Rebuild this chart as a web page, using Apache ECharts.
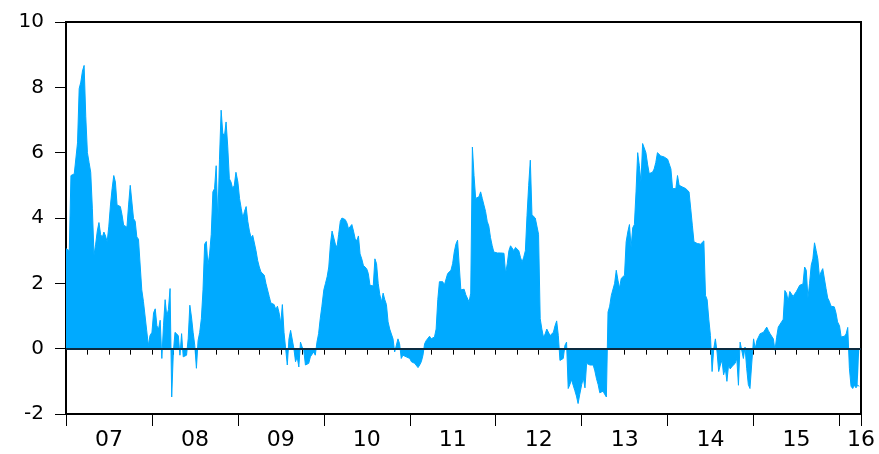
<!DOCTYPE html>
<html>
<head>
<meta charset="utf-8">
<script src="https://cdn.jsdelivr.net/npm/echarts@6/dist/echarts.min.js"></script>
<style>
  html, body { margin: 0; padding: 0; background: #ffffff; }
  #chart { width: 879px; height: 454px; }
</style>
</head>
<body>
<div id="chart"></div>
<script>
// Weekly observations, one array per calendar year (first week starts in early January)
const y2007 = [3.06, 3.06, 3.0, 5.3, 5.3, 5.35, 5.4, 6.3, 7.96, 8.16, 8.5, 8.67, 7.1, 6.0, 5.7, 5.4, 4.3, 2.86, 3.2, 3.6, 3.86, 3.5, 3.4, 3.57, 3.45, 3.27, 3.75, 4.4, 4.9, 5.3, 5.1, 4.4, 4.4, 4.35, 4.1, 3.78, 3.75, 3.72, 4.4, 5.0, 4.95, 3.98, 3.9, 3.42, 3.35, 3.3, 1.8, 1.45, 1.0, 0.55, 0.1, 0.4];
const y2008 = [0.5, 1.1, 1.22, 0.7, 0.6, 0.87, -0.3, 0.7, 1.5, 1.0, 1.2, 1.84, -1.48, -0.1, 0.5, 0.56, 0.4, -0.2, 0.46, -0.25, -0.22, -0.2, 0.3, 1.33, 0.97, 0.5, 0.1, -0.6, 0.25, 0.5, 0.92, 1.8, 3.2, 3.28, 2.55, 2.9, 3.5, 4.8, 4.9, 5.6, 3.9, 5.8, 7.3, 6.6, 6.5, 6.94, 6.2, 5.2, 5.1, 4.9, 5.0, 5.4];
const y2009 = [5.1, 4.6, 4.3, 4.0, 4.2, 4.35, 3.9, 3.6, 3.4, 3.47, 3.45, 3.0, 2.7, 2.5, 2.35, 2.35, 2.25, 2.0, 2.0, 1.6, 1.4, 1.38, 1.35, 1.2, 1.3, 1.1, 0.77, 1.35, 0.5, 0.45, -0.5, 0.3, 0.56, 0.5, 0.0, -0.4, -0.25, -0.56, 0.2, 0.05, -0.05, -0.5, -0.5, -0.45, -0.25, -0.3, -0.1, -0.2, 0.2, 0.46, 0.92, 1.3];
const y2010 = [1.8, 2.0, 2.2, 2.5, 3.2, 3.6, 3.6, 3.2, 3.1, 3.5, 3.9, 4.0, 4.03, 3.95, 3.85, 3.67, 3.65, 3.8, 3.6, 3.37, 3.3, 3.45, 2.9, 2.75, 2.55, 2.6, 2.45, 2.3, 1.94, 1.9, 1.92, 2.75, 2.6, 2.0, 1.65, 1.43, 1.7, 1.5, 1.35, 0.82, 0.6, 0.45, 0.3, -0.1, -0.15, 0.3, 0.15, -0.3, -0.2, -0.25, -0.25, -0.3];
const y2011 = [-0.3, -0.4, -0.4, -0.45, -0.5, -0.58, -0.5, -0.4, -0.2, 0.15, 0.25, 0.25, 0.38, 0.3, 0.25, 0.36, 0.6, 1.5, 2.05, 2.05, 2.05, 1.95, 2.0, 2.3, 2.25, 2.4, 2.6, 2.96, 3.2, 3.32, 3.3, 1.8, 1.84, 1.82, 1.65, 1.6, 1.43, 1.7, 6.17, 5.3, 4.6, 4.6, 4.65, 4.8, 4.6, 4.4, 4.2, 3.9, 3.75, 3.4, 3.16, 2.96];
const y2012 = [2.96, 2.93, 2.9, 2.93, 2.88, 2.92, 2.3, 2.6, 3.0, 3.15, 3.2, 3.0, 3.1, 3.1, 3.0, 2.8, 2.65, 2.8, 3.0, 4.08, 5.0, 5.77, 4.1, 4.05, 4.0, 4.0, 3.5, 0.92, 0.6, 0.35, 0.45, 0.6, 0.55, 0.4, 0.35, 0.5, 0.7, 0.85, 0.4, -0.36, -0.36, -0.3, 0.1, 0.2, -1.22, -1.1, -0.95, -1.0, -1.28, -1.45, -1.68, -1.4];
const y2013 = [-1.1, -0.9, -1.2, -0.45, -0.45, -0.5, -0.5, -0.5, -0.68, -0.92, -1.1, -1.35, -1.4, -1.3, -1.4, -1.48, 1.12, 1.3, 1.63, 1.63, 2.0, 2.4, 2.1, 1.85, 2.15, 2.1, 2.25, 3.27, 3.57, 3.8, 3.1, 3.7, 3.8, 4.8, 6.0, 5.6, 5.1, 6.28, 6.33, 6.0, 5.65, 5.36, 5.4, 5.4, 5.5, 5.7, 6.0, 5.95, 5.9, 5.87, 5.87, 5.83];
const y2014 = [5.8, 5.75, 5.5, 4.9, 4.88, 4.9, 5.3, 5.0, 5.0, 4.95, 4.97, 4.9, 4.85, 4.8, 4.3, 3.78, 3.27, 3.22, 3.22, 3.22, 3.2, 3.22, 3.3, 1.63, 1.5, 0.9, 0.4, -0.7, 0.0, 0.3, -0.1, -0.7, -0.5, -0.35, -0.8, -0.6, -1.0, -0.5, -0.62, -0.55, -0.6, -0.45, -0.3, -1.12, 0.2, 0.25, -0.3, 0.05, -0.6, -1.1, -1.22, -0.5];
const y2015 = [0.3, 0.0, 0.25, 0.3, 0.46, 0.4, 0.5, 0.55, 0.66, 0.55, 0.46, 0.4, 0.3, -0.05, 0.35, 0.66, 0.7, 0.82, 0.9, 1.78, 1.7, 1.45, 1.75, 1.72, 1.6, 1.55, 1.75, 1.78, 1.94, 1.95, 1.98, 2.5, 2.4, 1.55, 2.0, 2.55, 2.75, 3.24, 3.0, 2.75, 2.2, 2.35, 2.45, 2.45, 1.84, 1.55, 1.45, 1.3, 1.28, 1.28, 1.1, 0.82];
const y2016 = [0.7, 0.36, 0.36, 0.38, 0.45, 0.65, -0.6, -1.15, -1.22, -1.12, -1.2, -1.12, -1.15];

const years = [2007, 2008, 2009, 2010, 2011, 2012, 2013, 2014, 2015, 2016];
const yearSeries = [y2007, y2008, y2009, y2010, y2011, y2012, y2013, y2014, y2015, y2016];
const yearLabels = ['07', '08', '09', '10', '11', '12', '13', '14', '15', '16'];

const yMin = -2, yMax = 10, yStep = 2;
const xStart = 2007, xEnd = 2016.25;

// Position each weekly value on a fractional-year scale
const points = [];
years.forEach(function (yr, i) {
  yearSeries[i].forEach(function (v, k) {
    points.push([yr + (7 * k) / 365.25, v]);
  });
});

const labelFont = 'DejaVu Sans, Verdana, sans-serif';

function quarterLabel(val) {
  const yr = Math.floor(val + 1e-6);
  const frac = val - yr;
  if (Math.abs(frac - 0.5) < 1e-6) {
    const idx = years.indexOf(yr);
    return idx >= 0 ? yearLabels[idx] : '';
  }
  if (Math.abs(val - xEnd) < 1e-6) {
    return yearLabels[yearLabels.length - 1];
  }
  return '';
}

const chart = echarts.init(document.getElementById('chart'), null, { renderer: 'canvas' });
chart.setOption({
  animation: false,
  backgroundColor: '#ffffff',
  grid: {
    left: 66, right: 18, top: 22, bottom: 40,
    show: true, borderColor: '#000000', borderWidth: 2, backgroundColor: 'transparent'
  },
  xAxis: [
    {
      // quarter ticks and centred year labels
      type: 'value', min: xStart, max: xEnd, interval: 0.25,
      position: 'bottom',
      axisLine: { show: true, lineStyle: { color: '#000', width: 2 } },
      axisTick: { show: true, inside: false, length: 6, lineStyle: { color: '#000', width: 1 } },
      axisLabel: {
        show: true, showMinLabel: true, showMaxLabel: true,
        formatter: quarterLabel, margin: 15,
        color: '#000', fontFamily: labelFont, fontSize: 22
      },
      splitLine: { show: false }
    },
    {
      // longer ticks at each new year
      type: 'value', min: xStart, max: xEnd, interval: 1,
      position: 'bottom',
      axisLine: { show: false },
      axisTick: { show: true, inside: false, length: 12, lineStyle: { color: '#000', width: 1 } },
      axisLabel: { show: false },
      splitLine: { show: false }
    }
  ],
  yAxis: {
    type: 'value', min: yMin, max: yMax, interval: yStep,
    axisLine: { show: true, lineStyle: { color: '#000', width: 2 } },
    axisTick: { show: true, inside: false, length: 11, lineStyle: { color: '#000', width: 1 } },
    axisLabel: { color: '#000', fontFamily: labelFont, fontSize: 20, margin: 22 },
    splitLine: { show: false }
  },
  series: [{
    type: 'line',
    xAxisIndex: 0,
    data: points,
    showSymbol: false,
    symbol: 'none',
    lineStyle: { color: '#00aaff', width: 1 },
    areaStyle: { color: '#00aaff', opacity: 1, origin: 0 },
    markLine: {
      silent: true,
      symbol: 'none',
      label: { show: false },
      lineStyle: { color: '#0c2b40', width: 2, type: 'solid' },
      data: [{ yAxis: 0 }]
    }
  }]
});
</script>
</body>
</html>
